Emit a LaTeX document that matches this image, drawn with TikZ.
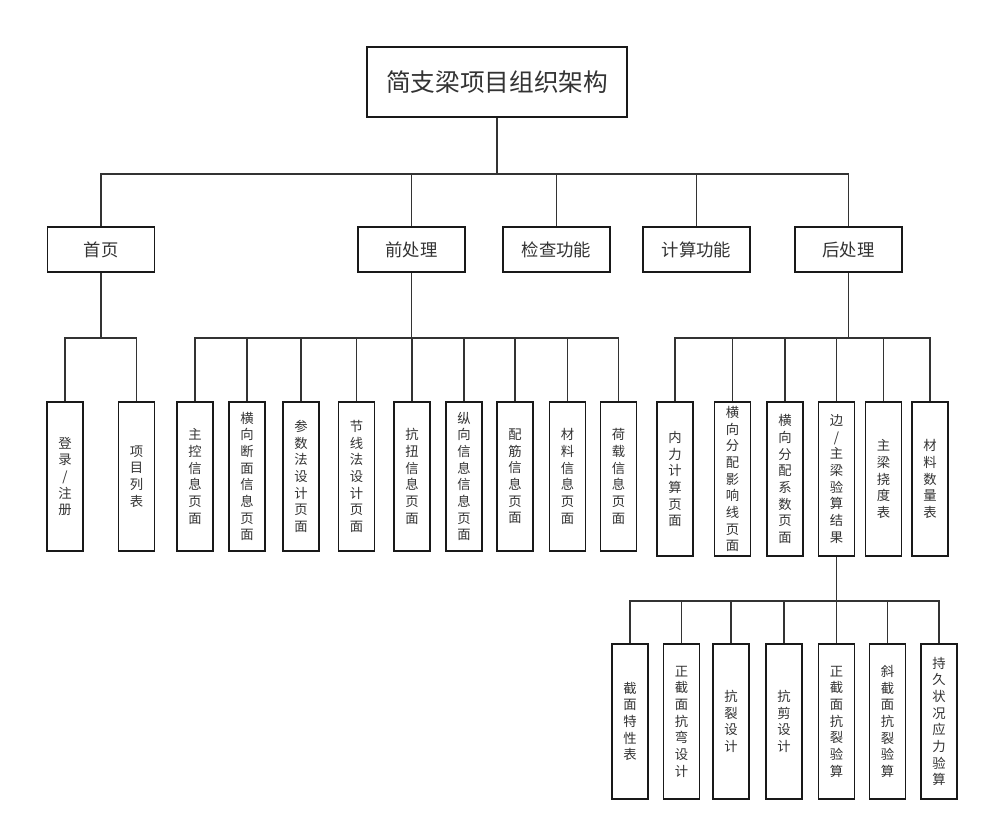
\documentclass[tikz,border=0pt]{standalone}
\usepackage{fontspec}
\newfontfamily\cjk{Noto Sans CJK SC}
\definecolor{txtgray}{HTML}{333333}
\definecolor{linegray}{HTML}{333333}

\tikzset{
  box/.style={draw=black!90, line width=1.2pt, fill=white, text=txtgray, inner sep=0pt},
  root/.style={box, minimum width=195pt, minimum height=52.5pt, font=\cjk\fontsize{18.5}{22}\selectfont},
  mid/.style={box, minimum width=80pt, minimum height=33.75pt, font=\cjk\fontsize{13}{16}\selectfont},
  leaf/.style={box, minimum width=27pt, align=center, font=\cjk\fontsize{10}{12.5}\selectfont},
  link/.style={draw=linegray, line width=1.1pt},
}

\begin{document}
\begin{tikzpicture}[x=0.75pt,y=-0.75pt]

    \useasboundingbox (0,0) rectangle (989,831);

    % Root
    \node[root] (root) at (497,82) {简支梁项目组织架构};

    % First level
    \node[mid] (home) at (101,249.5) {首页};
    \node[mid] (pre)  at (411.5,249.5) {前处理};
    \node[mid] (chk)  at (556.5,249.5) {检查功能};
    \node[mid] (calc) at (696.5,249.5) {计算功能};
    \node[mid] (post) at (848.5,249.5) {后处理};

    \foreach \m in {home,pre,chk,calc,post}
        \draw[link] (root.south) -- ++(0,56) -| (\m.north);

    % Home pages
    \foreach \n/\x/\t in {login/65/{登\\录\\/\\注\\册}, list/136.5/{项\\目\\列\\表}}
    {
        \node[leaf, minimum height=111.75pt] (\n) at (\x,476.5) {\t};
        \draw[link] (home.south) -- ++(0,65) -| (\n.north);
    }

    % Pre-processing pages
    \foreach \n/\x/\t in {ctrl/195/{主\\控\\信\\息\\页\\面},
                          cross/247/{横\\向\\断\\面\\信\\息\\页\\面},
                          param/301/{参\\数\\法\\设\\计\\页\\面},
                          node/356.5/{节\\线\\法\\设\\计\\页\\面},
                          tors/412/{抗\\扭\\信\\息\\页\\面},
                          longi/464/{纵\\向\\信\\息\\信\\息\\页\\面},
                          rebar/515/{配\\筋\\信\\息\\页\\面},
                          mat/567.5/{材\\料\\信\\息\\页\\面},
                          load/618.5/{荷\\载\\信\\息\\页\\面}}
    {
        \node[leaf, minimum height=111.75pt] (\n) at (\x,476.5) {\t};
        \draw[link] (pre.south) -- ++(0,65) -| (\n.north);
    }

    % Post-processing pages
    \foreach \n/\x/\t in {force/675/{内\\力\\计\\算\\页\\面},
                          infl/732.5/{横\\向\\分\\配\\影\\响\\线\\页\\面},
                          coef/785/{横\\向\\分\\配\\系\\数\\页\\面},
                          beam/836.5/{边\\/\\主\\梁\\验\\算\\结\\果},
                          defl/883.5/{主\\梁\\挠\\度\\表},
                          qty/930/{材\\料\\数\\量\\表}}
    {
        \node[leaf, minimum height=115.5pt] (\n) at (\x,479) {\t};
        \draw[link] (post.south) -- ++(0,65) -| (\n.north);
    }

    % Beam check results
    \foreach \n/\x/\t in {sect/630/{截\\面\\特\\性\\表},
                          bend/681.5/{正\\截\\面\\抗\\弯\\设\\计},
                          crack/731/{抗\\裂\\设\\计},
                          shear/784/{抗\\剪\\设\\计},
                          ncrack/836.5/{正\\截\\面\\抗\\裂\\验\\算},
                          icrack/887.5/{斜\\截\\面\\抗\\裂\\验\\算},
                          stress/939/{持\\久\\状\\况\\应\\力\\验\\算}}
    {
        \node[leaf, minimum height=116.25pt] (\n) at (\x,721.5) {\t};
        \draw[link] (beam.south) -- ++(0,44) -| (\n.north);
    }

\end{tikzpicture}
\end{document}
